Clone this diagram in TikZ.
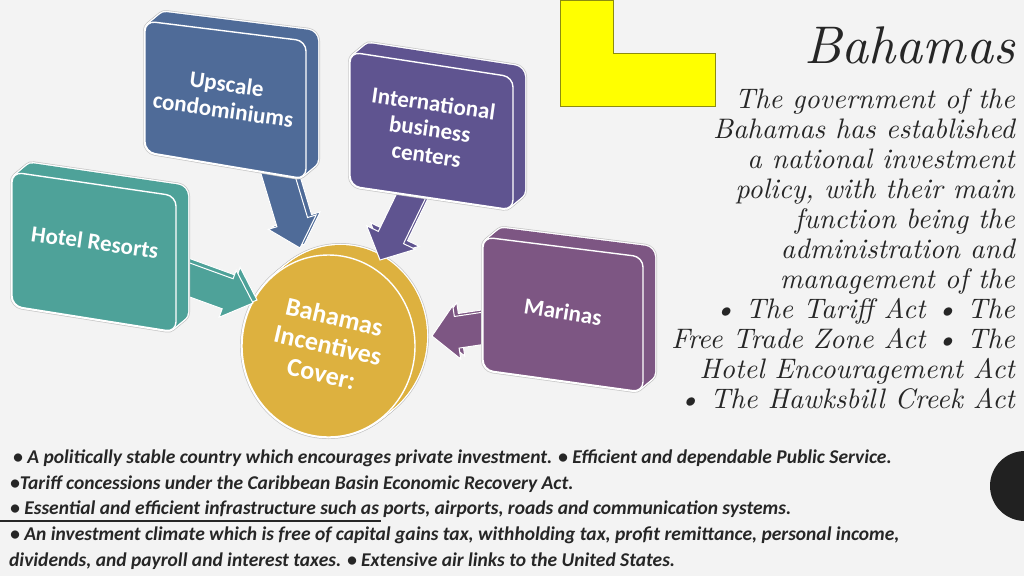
\documentclass[tikz,border=0pt]{standalone}
\usepackage{fontspec}
\newfontfamily\carl{Carlito}
\newfontfamily\lmit{lmroman10-italic.otf}
\usetikzlibrary{calc}
\definecolor{bg}{HTML}{F3F3F3}
\definecolor{cblue}{HTML}{4F6B98}
\definecolor{cviolet}{HTML}{5F5490}
\definecolor{cteal}{HTML}{4EA299}
\definecolor{cplum}{HTML}{7D5683}
\definecolor{cgold}{HTML}{DDB13F}
\definecolor{ink}{HTML}{262626}
\definecolor{lshape}{HTML}{FFFF00}
\definecolor{lstroke}{HTML}{8C8C10}
\tikzset{
  boxtext/.style={text=white, font=\carl\bfseries\fontsize{23}{26}\selectfont, align=center, inner sep=0pt},
  cointext/.style={text=white, font=\carl\bfseries\fontsize{26}{29}\selectfont, align=center, inner sep=0pt},
  rtext/.style={text=ink, font=\lmit\fontsize{28.2}{30}\selectfont, anchor=base east, inner sep=0pt},
  btext/.style={text=ink, font=\carl\bfseries\itshape\fontsize{19.5}{20}\selectfont, anchor=base west, inner sep=0pt},
  rim/.style={draw=gray!45, line width=4pt, rounded corners=10pt},
  rimw/.style={draw=white, line width=2.6pt, rounded corners=10pt},
  face/.style={fill=#1, draw=white, line width=1.4pt, rounded corners=10pt},
  body/.style={fill=#1, rounded corners=10pt},
  arrowface/.style={fill=#1, draw=white, line width=1pt, line join=miter},
}
% 3D box: #1 colour, #2..#5 corners TL TR BR BL
\newcommand\tbox[5]{%
  \foreach \k in {0,...,8} {\path[rim, shift={(1.5*\k,-1.25*\k)}] #2 -- #3 -- #4 -- #5 -- cycle;}
  \foreach \k in {0,...,8} {\path[rimw, shift={(1.5*\k,-1.25*\k)}] #2 -- #3 -- #4 -- #5 -- cycle;}
  \foreach \k in {0,...,8} {\path[body=#1, shift={(1.5*\k,-1.25*\k)}] #2 -- #3 -- #4 -- #5 -- cycle;}
  \path[face=#1] #2 -- #3 -- #4 -- #5 -- cycle;
}
% block arrow geometry: #1 prefix, #2 start, #3 tip, #4 half shaft, #5 half head, #6 head length
\newcommand\barrow[6]{%
  \coordinate (#1h) at ($(#3)!#6!(#2)$);
  \coordinate (#1p1) at ($(#2)!#4!90:(#3)$);
  \coordinate (#1p2) at ($(#1h)!#4!90:(#3)$);
  \coordinate (#1p3) at ($(#1h)!#5!90:(#3)$);
  \coordinate (#1p4) at ($(#1h)!#5!-90:(#3)$);
  \coordinate (#1p5) at ($(#1h)!#4!-90:(#3)$);
  \coordinate (#1p6) at ($(#2)!#4!-90:(#3)$);
}
\newcommand\darrow[3]{% #1 prefix, #2 tip name, #3 colour
  \path[arrowface=#3, transform canvas={shift={(4pt,3pt)}}] (#1p1)--(#1p2)--(#1p3)--(#2)--(#1p4)--(#1p5)--(#1p6)--cycle;
  \path[arrowface=#3] (#1p1)--(#1p2)--(#1p3)--(#2)--(#1p4)--(#1p5)--(#1p6)--cycle;
}
\begin{document}
\begin{tikzpicture}[x=1pt,y=-1pt]
\path[use as bounding box, fill=bg] (0,0) rectangle (1024,576);
\clip (0,0) rectangle (1024,576);

% coin
\foreach \k in {0,...,12} {\path[draw=gray!45, line width=4pt] (328.5+\k,346-0.83*\k) ellipse [x radius=86.5pt, y radius=91pt];}
\foreach \k in {0,...,12} {\path[draw=white, line width=2.6pt] (328.5+\k,346-0.83*\k) ellipse [x radius=86.5pt, y radius=91pt];}
\foreach \k in {0,...,12} {\path[fill=cgold] (328.5+\k,346-0.83*\k) ellipse [x radius=86.5pt, y radius=91pt];}
\path[fill=cgold, draw=white, line width=1.4pt] (328.5,346) ellipse [x radius=86.5pt, y radius=91pt];
\node[cointext, rotate=-13] (coin) at (328,345) {Bahamas\\Incentives\\Cover:};

% arrows
\coordinate (uS) at (276,168); \coordinate (uT) at (300,248);
\coordinate (iS) at (413,192); \coordinate (iT) at (380,260);
\coordinate (hS) at (176,275); \coordinate (hT) at (253,303);
\coordinate (mS) at (492,327); \coordinate (mT) at (432,336);
\barrow{u}{uS}{uT}{16pt}{25pt}{27pt}
\barrow{i}{iS}{iT}{14pt}{27pt}{25pt}
\barrow{h}{hS}{hT}{16pt}{25pt}{27pt}
\barrow{m}{mS}{mT}{16pt}{27pt}{25pt}
\darrow{u}{uT}{cblue}
\darrow{i}{iT}{cviolet}
\darrow{h}{hT}{cteal}
\darrow{m}{mT}{cplum}

% boxes
\tbox{cblue}{(145,21)}{(306,41)}{(306,179)}{(145,152)}
\node[boxtext, rotate=-8] (upscale) at (225,97) {Upscale\\condominiums};
\tbox{cviolet}{(350,52)}{(513,77)}{(513,210)}{(350,186)}
\node[boxtext, rotate=-8] (intl) at (430,129) {International\\business\\centers};
\tbox{cteal}{(12,172)}{(176,196)}{(176,332)}{(12,306)}
\node[boxtext, rotate=-8] (hotel) at (95,242) {Hotel Resorts};
\tbox{cplum}{(483,237)}{(643,257)}{(643,392)}{(483,370)}
\node[boxtext, rotate=-9] (marinas) at (563,312) {Marinas};

% yellow L
\path[fill=lshape, draw=lstroke, line width=1pt] (560,0) -- (613,0) -- (613,53) -- (715,53) -- (715,106) -- (560,106) -- cycle;

% right text
\node[text=ink, font=\lmit\fontsize{53}{56}\selectfont, anchor=base east, inner sep=0pt] (title) at (1015,63) {Bahamas};
\foreach \t [count=\i] in {{The government of the},{Bahamas has established},{a national investment},{policy, with their main},{function being the},{administration and},{management of the},{\textbullet{} The Tariff Act \textbullet{} The},{Free Trade Zone Act \textbullet{} The},{Hotel Encouragement Act},{\textbullet{} The Hawksbill Creek Act}}
  {\node[rtext] (r\i) at (1015,78+30*\i) {\t};}

% bottom text
\node[btext] (b1) at (13,463) {\textbullet{} A politically stable country which encourages private investment. \textbullet{} Efficient and dependable Public Service.};
\node[btext] (b2) at (10,489) {\textbullet Tariff concessions under the Caribbean Basin Economic Recovery Act.};
\node[btext] (b3) at (10,514) {\textbullet{} Essential and efficient infrastructure such as ports, airports, roads and communication systems.};
\node[btext] (b4) at (10,540) {\textbullet{} An investment climate which is free of capital gains tax, withholding tax, profit remittance, personal income,};
\node[btext] (b5) at (9,566) {dividends, and payroll and interest taxes. \textbullet{} Extensive air links to the United States.};
\coordinate (ul0) at (0,521); \coordinate (ul1) at (381,521);
\draw[ink, line width=1.6pt] (ul0) -- (ul1);

% black disc
\fill[black!87] (1025,486) circle[radius=35pt];
\end{tikzpicture}
\end{document}
